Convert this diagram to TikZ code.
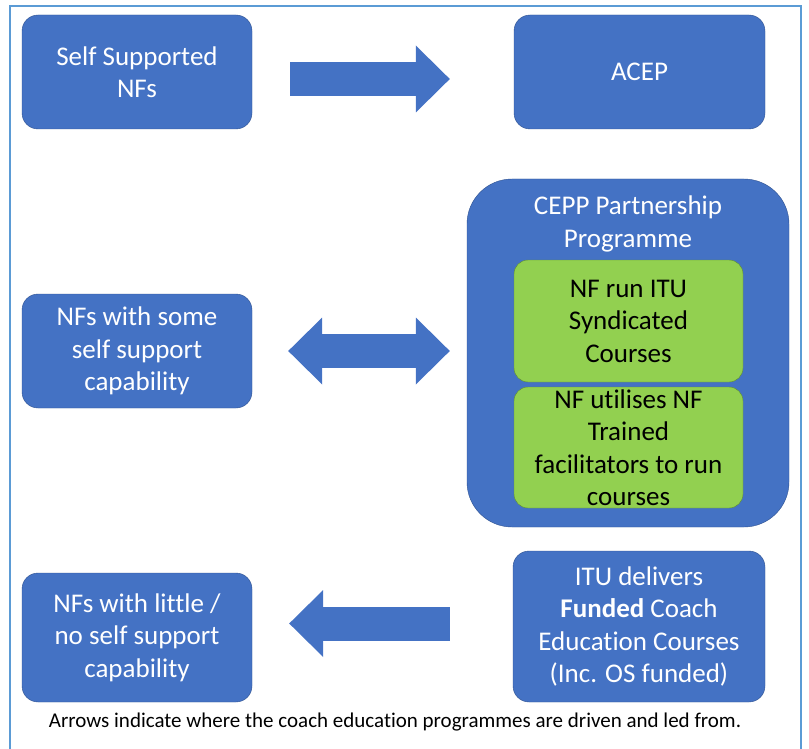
\documentclass[tikz,border=0pt]{standalone}
\usepackage{fontspec}
\setmainfont{Carlito}[Ligatures=NoCommon]
\usetikzlibrary{arrows.meta}
\definecolor{boxblue}{HTML}{4472C4}
\definecolor{edgeblue}{HTML}{2F528F}
\definecolor{boxgreen}{HTML}{92D050}
\definecolor{edgegreen}{HTML}{5E8C31}
\definecolor{framec}{HTML}{5B9BD5}
\begin{document}
\begin{tikzpicture}[x=1pt,y=-1pt,
    box/.style={draw=edgeblue, fill=boxblue, text=white, rounded corners=16pt,
      inner sep=0pt, align=center, font=\fontsize{27}{32.5}\selectfont},
    inbox/.style={box, draw=edgegreen, fill=boxgreen, text=black, rounded corners=14pt},
    fat/.style={boxblue, line width=34pt},
    >={Triangle[width=67pt,length=34pt,line width=0pt]}]
    \useasboundingbox (0,0) rectangle (809,749);
    \draw [framec, line width=1.2pt] (10,6) rectangle (801,770);
    \node [box, minimum width=230pt, minimum height=114pt] (self) at (137,72) {Self Supported\\NFs};
    \node [box, minimum width=251pt, minimum height=114pt] (acep) at (639.5,72) {ACEP};
    \node [box, minimum width=230pt, minimum height=114pt] (some) at (137,351) {NFs with some\\self support\\capability};
    \node [box, minimum width=322pt, minimum height=348pt, rounded corners=45pt] (cepp) at (628,353) {};
    \node [text=white, align=center, font=\fontsize{27}{32.5}\selectfont] (title) at (628,224) {CEPP Partnership\\Programme};
    \node [inbox, minimum width=229pt, minimum height=122pt] (run) at (628.5,321) {NF run ITU\\Syndicated\\Courses};
    \node [inbox, minimum width=229pt, minimum height=121pt] (util) at (628.5,447.5) {NF utilises NF\\Trained\\facilitators to run\\courses};
    \node [box, minimum width=230pt, minimum height=129pt] (little) at (137,637.5) {NFs with little /\\no self support\\capability};
    \node [box, minimum width=252pt, minimum height=151pt] (itu) at (639,626.5) {ITU delivers\\\textbf{Funded} Coach\\Education Courses\\(Inc. OS funded)};
    \node [font=\fontsize{21}{24}\selectfont] (note) at (395,722) {Arrows indicate where the coach education programmes are driven and led from.};
    \draw [fat,->,shorten <=38pt,shorten >=64pt] ([yshift=-7pt]self.east) -- ([yshift=-7pt]acep.west);
    \draw [fat,<->,shorten <=36pt,shorten >=17pt] (some.east) -- (some.east -| cepp.west);
    \draw [fat,->,shorten <=63pt,shorten >=37pt] ([yshift=3pt]itu.west) -- ([yshift=3pt]itu.west -| little.east);
  \end{tikzpicture}
\end{document}
